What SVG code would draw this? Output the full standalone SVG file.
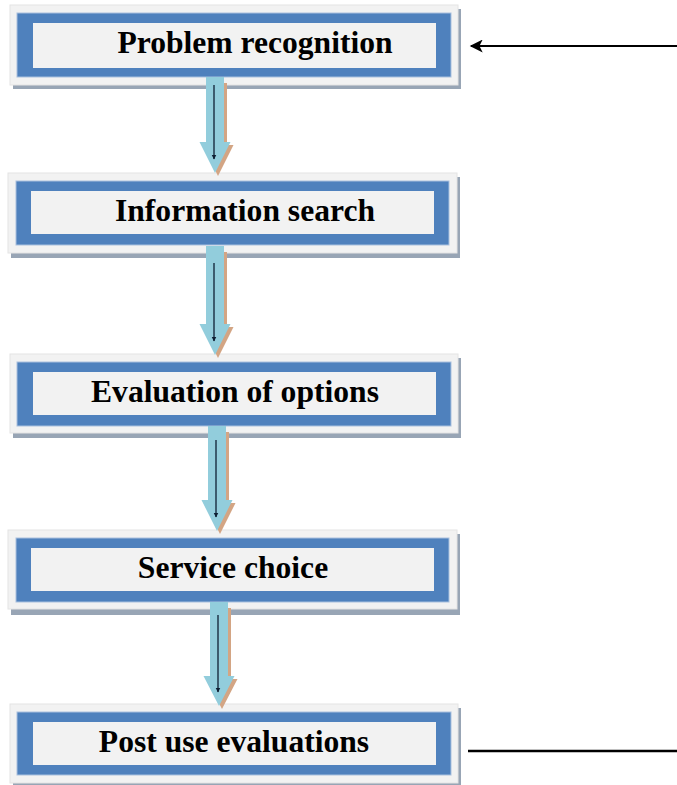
<svg xmlns="http://www.w3.org/2000/svg" width="677" height="785" viewBox="0 0 677 785">
<defs>
<style>
.shadow{fill:#98A5B5}
.frame{fill:#F2F2F2;stroke:#E4E4E4;stroke-width:1}
.blue{fill:#4F81BD;stroke:#A9C0DE;stroke-width:1}
.inner{fill:#F2F2F2}
.label{font-family:"Liberation Serif","Times New Roman",serif;font-weight:bold;font-size:31.6px;fill:#000;text-anchor:middle}
.ash{fill:#D3A584}
.ab{fill:#92CDDC}
.aline{stroke:#0F1F33;stroke-width:1.3;fill:none}
.conn{stroke:#000;fill:none}
</style>
<marker id="small" viewBox="0 0 10 10" refX="9" refY="5" markerWidth="5" markerHeight="7" orient="auto" markerUnits="userSpaceOnUse">
<path d="M0,0 L10,5 L0,10 Z" fill="#0F1F33"/>
</marker>
<marker id="big" viewBox="0 0 10 10" refX="9" refY="5" markerWidth="17" markerHeight="13" orient="auto" markerUnits="userSpaceOnUse">
<path d="M0,0 L10,5 L0,10 L2.5,5 Z" fill="#000"/>
</marker>
</defs>
<rect width="677" height="785" fill="#FFFFFF"/>

<g id="n1">
<rect class="shadow" x="13" y="9" width="448" height="80"/>
<rect class="frame" x="10" y="5" width="448" height="80"/>
<rect class="blue" x="17" y="13" width="434" height="64"/>
<rect class="inner" x="33" y="23" width="403" height="45"/>
<text class="label" x="255" y="53">Problem recognition</text>
</g>

<g id="n2">
<rect class="shadow" x="11" y="177" width="449" height="81"/>
<rect class="frame" x="8" y="173" width="449" height="80"/>
<rect class="blue" x="16" y="181" width="433" height="64"/>
<rect class="inner" x="31" y="191" width="403" height="43"/>
<text class="label" x="245" y="221">Information search</text>
</g>

<g id="n3">
<rect class="shadow" x="13" y="358" width="448" height="80"/>
<rect class="frame" x="10" y="354" width="448" height="79"/>
<rect class="blue" x="17" y="362" width="434" height="64"/>
<rect class="inner" x="33" y="372" width="403" height="43"/>
<text class="label" x="235" y="402">Evaluation of options</text>
</g>

<g id="n4">
<rect class="shadow" x="11" y="534" width="449" height="81"/>
<rect class="frame" x="8" y="530" width="449" height="79"/>
<rect class="blue" x="16" y="538" width="433" height="64"/>
<rect class="inner" x="31" y="548" width="403" height="43"/>
<text class="label" x="233" y="578">Service choice</text>
</g>

<g id="n5">
<rect class="shadow" x="13" y="708" width="448" height="80"/>
<rect class="frame" x="10" y="704" width="448" height="79"/>
<rect class="blue" x="17" y="712" width="434" height="63"/>
<rect class="inner" x="33" y="722" width="403" height="43"/>
<text class="label" x="234" y="752">Post use evaluations</text>
</g>

<g id="connectors">
<g id="a1">
<path class="ash" transform="translate(3,3)" d="M206,80 L224,80 L224,142 L230.5,142 L215,173 L199.5,142 L206,142 Z"/>
<path class="ab" d="M206,77 L224,77 L224,142 L230.5,142 L215,173 L199.5,142 L206,142 Z"/>
<line class="aline" x1="214" y1="85" x2="214" y2="159" marker-end="url(#small)"/>
</g>
<g id="a2">
<path class="ash" transform="translate(3,3)" d="M206,249 L224,249 L224,324 L230.5,324 L215,355 L199.5,324 L206,324 Z"/>
<path class="ab" d="M206,246 L224,246 L224,324 L230.5,324 L215,355 L199.5,324 L206,324 Z"/>
<line class="aline" x1="214" y1="263" x2="214" y2="341" marker-end="url(#small)"/>
</g>
<g id="a3">
<path class="ash" transform="translate(3,3)" d="M208,429 L226,429 L226,500 L232.5,500 L217,531 L201.5,500 L208,500 Z"/>
<path class="ab" d="M208,426 L226,426 L226,500 L232.5,500 L217,531 L201.5,500 L208,500 Z"/>
<line class="aline" x1="216" y1="440" x2="216" y2="517" marker-end="url(#small)"/>
</g>
<g id="a4">
<path class="ash" transform="translate(3,3)" d="M210,605 L228,605 L228,676 L234.5,676 L219,706 L203.5,676 L210,676 Z"/>
<path class="ab" d="M210,602 L228,602 L228,676 L234.5,676 L219,706 L203.5,676 L210,676 Z"/>
<line class="aline" x1="218" y1="615" x2="218" y2="692" marker-end="url(#small)"/>
</g>
<line class="conn" x1="677" y1="46" x2="471" y2="46" stroke-width="2" marker-end="url(#big)"/>
<line class="conn" x1="468" y1="751" x2="677" y2="751" stroke-width="2.5"/>
</g>
</svg>
